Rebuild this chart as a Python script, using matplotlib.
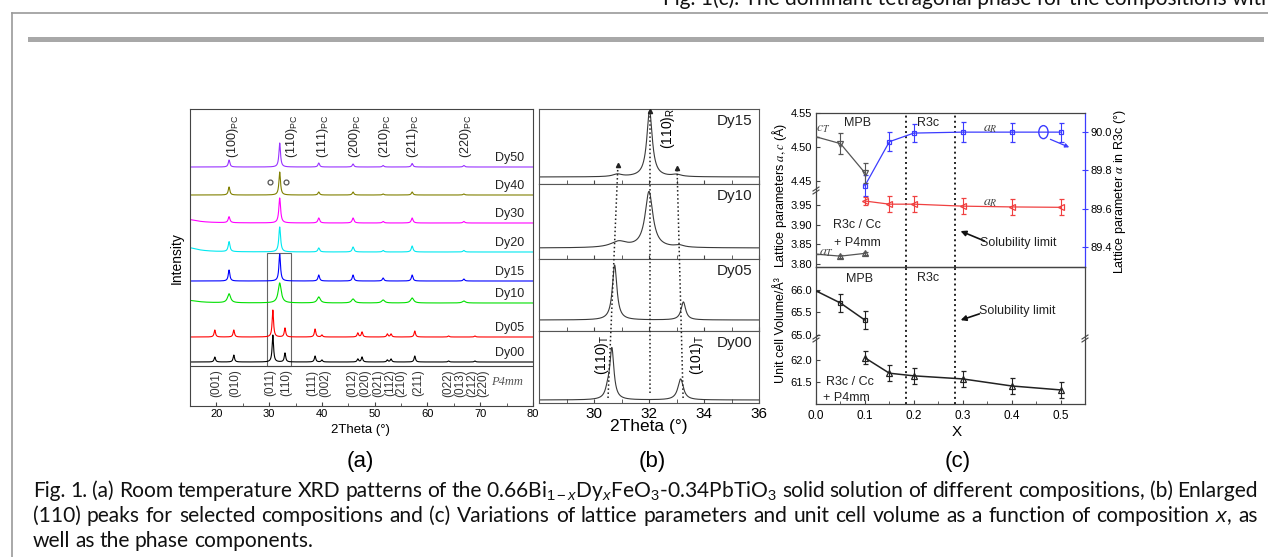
import numpy as np
import matplotlib
matplotlib.use('Agg')
import matplotlib.pyplot as plt
from matplotlib.lines import Line2D
from matplotlib.patches import Ellipse, Rectangle
from matplotlib.ticker import MultipleLocator, FormatStrFormatter

plt.rcParams['font.family'] = ['Liberation Sans', 'DejaVu Sans']
plt.rcParams['mathtext.fontset'] = 'custom'
plt.rcParams['mathtext.rm'] = 'Liberation Sans'
plt.rcParams['mathtext.it'] = 'Liberation Sans:italic'
plt.rcParams['mathtext.bf'] = 'Liberation Sans:bold'

# ---------------- data (a) ----------------
a_names = ['Dy50', 'Dy40', 'Dy30', 'Dy20', 'Dy15', 'Dy10', 'Dy05', 'Dy00']
a_colors = ['#9933ff', '#808000', '#ff00ff', '#00e8f0', '#0000ff', '#00e000', '#ff0000', '#000000']
a_offset = [239, 211, 183, 154, 125, 103, 69, 44]
pc_pos = [22.4, 32.0, 39.4, 45.9, 51.6, 57.1, 66.9]
t_pos = [19.7, 23.3, 30.7, 33.0, 38.7, 40.0, 46.8, 47.6, 52.4, 53.1, 57.6, 64.0, 69.0]
a_heights = [
    [7, 24, 4, 3, 1.5, 3.5, 1.5],
    [8, 23, 3, 3, 1, 3, 1],
    [6, 25, 5, 5, 1.5, 5, 1.5],
    [10, 25, 4, 5, 1.5, 6, 1.5],
    [11, 27, 6, 6, 3, 6, 2],
    [9, 20, 6, 4, 3, 5, 2],
    [7, 7, 27, 9, 8, 2, 4, 5, 3, 3, 6, 1, 1],
    [5, 7, 27, 9, 6, 2, 3, 5, 2, 3, 6, 1, 1],
]
a_gamma = [0.18, 0.18, 0.2, 0.2, 0.18, 0.35, 0.16, 0.16]
a_bg = [0, 0, 4, 5, 0, 3, 0, 0]
pc_labels = ['(100)', '(110)', '(111)', '(200)', '(210)', '(211)', '(220)']
pc_label_x = [23.1, 34.3, 40.2, 46.25, 51.9, 57.3, 67.3]
t_labels = ['(001)', '(010)', '(011)', '(110)', '(111)', '(002)', '(012)', '(020)',
            '(021)', '(112)', '(210)', '(211)', '(022)', '(013)', '(212)', '(220)']
t_label_x = [20.0, 23.5, 30.2, 33.2, 38.1, 40.6, 45.7, 48.2,
             50.6, 52.9, 55.0, 58.2, 63.9, 66.2, 68.4, 70.5]
imp_x = [30.2, 33.2]

# ---------------- data (b) ----------------
b_names = ['Dy15', 'Dy10', 'Dy05', 'Dy00']
b_base = [7, 11, 11, 3]
b_peaks = [
    [(32.02, 66, 0.12), (30.85, 2.5, 0.2), (33.0, 2, 0.2)],
    [(32.0, 56, 0.17), (30.9, 6, 0.35), (33.1, 2, 0.2)],
    [(30.75, 55, 0.1), (33.25, 18, 0.1)],
    [(30.65, 50, 0.09), (30.5, 8, 0.1), (33.15, 21, 0.12)],
]
shift_T1 = ([30.51, 30.87], [5, 238])
shift_R = ([32.04, 32.04], [10, 292])
shift_T2 = ([33.24, 33.02], [5, 235])

# ---------------- data (c) ----------------
x_T = [0.0, 0.05, 0.1]
c_T = [4.515, 4.505, 4.462]
c_T_err = [0.0, 0.016, 0.015]
a_T = [3.825, 3.820, 3.827]
a_T_err = [0.0, 0.004, 0.004]
x_R = [0.1, 0.15, 0.2, 0.3, 0.4, 0.5]
a_R = [3.960, 3.952, 3.952, 3.947, 3.945, 3.944]
a_R_err = [0.01, 0.02, 0.02, 0.02, 0.02, 0.02]
alpha_R = [89.72, 89.95, 89.995, 90.0, 90.0, 90.0]
alpha_err = [0.055, 0.05, 0.046, 0.053, 0.05, 0.05]
V_T = [65.98, 65.71, 65.33]
V_T_err = [0.0, 0.2, 0.2]
V_R = [62.05, 61.70, 61.64, 61.57, 61.41, 61.32]
V_R_err = [0.15, 0.18, 0.18, 0.18, 0.18, 0.18]
phase_bounds = [0.185, 0.284]

W, H = 1268, 557
fig = plt.figure(figsize=(W / 100, H / 100), dpi=100)


def box(x0, y0, x1, y1):
    return [x0 / W, 1 - y1 / H, (x1 - x0) / W, (y1 - y0) / H]


def ftext(x, y, s, **kw):
    return fig.text(x / W, 1 - y / H, s, **kw)


def fline(xs, ys, **kw):
    fig.add_artist(Line2D([x / W for x in xs], [1 - y / H for y in ys], **kw))


def lorentz(x, peaks):
    y = np.zeros_like(x)
    for p, h, g in peaks:
        y += h * g ** 2 / ((x - p) ** 2 + g ** 2)
    return y


def brk(x, y):
    fline([x - 3, x + 3], [y + 1, y - 3], color='#444', lw=0.8)
    fline([x - 3, x + 3], [y + 4, y], color='#444', lw=0.8)


SP = '#444444'
renderer = fig.canvas.get_renderer()

# page frame
fline([12, 12], [13, 557], color='#9a9a9a', lw=1.2)
fline([12, 1268], [13, 13], color='#9a9a9a', lw=1.2)
fline([30, 1261], [38.5, 38.5], color='#a8a8a8', lw=3.6)

# ---------------- caption (size fitted to the justified width) ----------------
cap_lines = [
    'Fig. 1. (a) Room temperature XRD patterns of the 0.66Bi$_{1-x}$Dy$_x$FeO$_3$-0.34PbTiO$_3$ '
    'solid solution of different compositions, (b) Enlarged',
    '(110) peaks for selected compositions and (c) Variations of lattice parameters and unit '
    'cell volume as a function of composition $x$, as',
    'well as the phase components.',
]
cap_base = [497, 522, 547]
X0, X1 = 33, 1258


def words_width(words, size):
    objs = [fig.text(0, 0, w, family='Lato', fontsize=size) for w in words]
    ws = [o.get_window_extent(renderer).width for o in objs]
    for o in objs:
        o.remove()
    return ws


size = 12.5
w1 = cap_lines[0].split(' ')
for _ in range(3):
    ws = words_width(w1, size)
    nat = sum(ws) + (len(w1) - 1) * size * 0.23 * 100 / 72
    size *= (X1 - X0) / nat

for i, line in enumerate(cap_lines):
    words = line.split(' ')
    objs = [ftext(0, cap_base[i], w, family='Lato', fontsize=size, va='baseline', color='#111')
            for w in words]
    ws = [o.get_window_extent(renderer).width for o in objs]
    if i < len(cap_lines) - 1:
        gap = (X1 - X0 - sum(ws)) / (len(words) - 1)
    else:
        gap = size * 0.23 * 100 / 72
    x = X0
    for o, w in zip(objs, ws):
        o.set_x(x / W)
        x += w + gap

ftext(663, 5, 'Fig. 1(c). The dominant tetragonal phase for the compositions with',
      family='Lato', fontsize=size, va='baseline', color='#111')

# ---------------- panel (a) ----------------
ax_a = fig.add_axes(box(190, 109, 533, 406))
xa = np.linspace(15, 80, 5000)
for i, name in enumerate(a_names):
    pos = t_pos if len(a_heights[i]) == len(t_pos) else pc_pos
    peaks = [(p, h, a_gamma[i]) for p, h in zip(pos, a_heights[i])]
    if a_bg[i]:
        peaks.append((14, a_bg[i], 2.5))
    ax_a.plot(xa, a_offset[i] + lorentz(xa, peaks), color=a_colors[i], lw=0.8)
    ax_a.text(78.4, a_offset[i] + 9, name, ha='right', va='center', fontsize=9, color='#222')
ax_a.plot(imp_x, [a_offset[1] + 13] * 2, 'o', ms=3.5, mfc='none', mec='#555', mew=0.9)
for lab, x in zip(pc_labels, pc_label_x):
    ax_a.text(x, 248, lab + r'$_{\rm PC}$', rotation=90, ha='center', va='bottom',
              fontsize=9, color='#222')
for lab, x in zip(t_labels, t_label_x):
    ax_a.text(x, 23, lab, rotation=90, ha='center', va='center', fontsize=8.5, color='#333')
ax_a.text(78, 24, 'P4mm', family='Liberation Serif', style='italic', fontsize=9,
          ha='right', va='center', color='#555')
ax_a.axhline(40, color=SP, lw=0.8)
ax_a.add_patch(Rectangle((29.5, 40), 4.6, 113, fill=False, ec='#666', lw=0.8))
ax_a.set_xlim(15, 80)
ax_a.set_ylim(0, 297)
ax_a.set_xticks(range(20, 81, 10))
ax_a.xaxis.set_minor_locator(MultipleLocator(5))
ax_a.set_yticks([])
ax_a.tick_params(axis='x', which='major', direction='in', length=3, labelsize=8, pad=2.5, color=SP)
ax_a.tick_params(axis='x', which='minor', direction='in', length=2, color=SP)
for s in ax_a.spines.values():
    s.set_color(SP)
    s.set_linewidth(0.8)
ftext(177, 258, 'Intensity', rotation=90, ha='center', va='center', fontsize=10)
ftext(360, 430, '2Theta (°)', ha='center', va='center', fontsize=9.5)

# ---------------- panel (b) ----------------
b_rows = [(109, 184), (184, 259), (259, 331), (331, 403)]
xb = np.linspace(28, 36, 3000)
for i, (top, bot) in enumerate(b_rows):
    ax = fig.add_axes(box(539, top, 759, bot))
    ax.plot(xb, b_base[i] + lorentz(xb, b_peaks[i]), color='#3a3a3a', lw=0.8)
    ax.text(35.75, (bot - top) - 12, b_names[i], ha='right', va='center', fontsize=11, color='#222')
    ax.set_xlim(28, 36)
    ax.set_ylim(0, bot - top)
    ax.set_yticks([])
    ax.set_xticks([30, 32, 34, 36])
    ax.xaxis.set_minor_locator(MultipleLocator(1))
    ax.tick_params(axis='x', which='both', direction='in', length=3, color=SP,
                   labelsize=11, pad=3, labelbottom=(i == 3))
    for s in ax.spines.values():
        s.set_color('#555')
        s.set_linewidth(0.8)

ax_bo = fig.add_axes(box(539, 109, 759, 403))
ax_bo.set_xlim(28, 36)
ax_bo.set_ylim(0, 294)
ax_bo.axis('off')
for xs, ys in (shift_T1, shift_R, shift_T2):
    ax_bo.plot(xs, ys, ls=':', color='#222', lw=1.1)
    ax_bo.plot(xs[1], ys[1], '^', ms=3, color='#222')
ax_bo.text(32.69, 275, r'(110)$_{\rm R}$', rotation=90, ha='center', va='center', fontsize=10)
ax_bo.text(30.29, 48, r'(110)$_{\rm T}$', rotation=90, ha='center', va='center', fontsize=10)
ax_bo.text(33.75, 48, r'(101)$_{\rm T}$', rotation=90, ha='center', va='center', fontsize=10)
ftext(649, 427, '2Theta (°)', ha='center', va='center', fontsize=12.5)

# ---------------- panel (c) ----------------
BLUE = '#3c3cff'
RED = '#f04040'
GR = '#555555'

ax_ct = fig.add_axes(box(816, 113, 1085, 267))
ax_cu = fig.add_axes(box(816, 113, 1085, 190))
ax_cl = fig.add_axes(box(816, 190, 1085, 267))
ax_vb = fig.add_axes(box(816, 267, 1085, 404))
ax_vu = fig.add_axes(box(816, 267, 1085, 338))
ax_vl = fig.add_axes(box(816, 338, 1085, 404))

for ax in (ax_ct, ax_cu, ax_cl, ax_vb, ax_vu, ax_vl):
    ax.set_xlim(0, 0.55)
    ax.patch.set_alpha(0)
for ax in (ax_cu, ax_cl, ax_vu, ax_vl):
    for s in ax.spines.values():
        s.set_visible(False)
    ax.set_xticks([])
    ax.tick_params(axis='y', direction='in', length=3, labelsize=8, pad=3, color=SP)
    ax.yaxis.set_major_formatter(FormatStrFormatter('%.2f'))

# frame of upper panel with alpha axis on the right
ax_ct.set_ylim(89.295, 90.1)
ax_ct.set_xticks([])
ax_ct.yaxis.tick_right()
ax_ct.set_yticks([89.4, 89.6, 89.8, 90.0])
ax_ct.yaxis.set_major_formatter(FormatStrFormatter('%.1f'))
ax_ct.tick_params(axis='y', direction='inout', length=4, labelsize=8, pad=2, color=BLUE)
for s in ax_ct.spines.values():
    s.set_color(SP)
    s.set_linewidth(0.9)
ax_ct.spines['right'].set_color(BLUE)

ax_vb.set_ylim(0, 1)
ax_vb.set_yticks([])
ax_vb.set_xticks(np.arange(0, 0.51, 0.1))
ax_vb.xaxis.set_minor_locator(MultipleLocator(0.05))
ax_vb.xaxis.set_major_formatter(FormatStrFormatter('%.1f'))
ax_vb.tick_params(axis='x', which='major', direction='in', length=3, labelsize=8.5, pad=4, color=SP)
ax_vb.tick_params(axis='x', which='minor', direction='in', length=2, color=SP)
for s in ax_vb.spines.values():
    s.set_color(SP)
    s.set_linewidth(0.9)

for ax in (ax_ct, ax_vb):
    for xb_ in phase_bounds:
        ax.axvline(xb_, ls=':', color='#222', lw=1.4)

ax_cu.set_ylim(4.4368, 4.55)
ax_cu.set_yticks([4.45, 4.50, 4.55])
ax_cl.set_ylim(3.7924, 3.988)
ax_cl.set_yticks([3.80, 3.85, 3.90, 3.95])
ax_vu.set_ylim(64.933, 66.51)
ax_vu.set_yticks([65.0, 65.5, 66.0])
ax_vu.yaxis.set_major_formatter(FormatStrFormatter('%.1f'))
ax_vl.set_ylim(61.0, 62.5)
ax_vl.set_yticks([61.5, 62.0])
ax_vl.yaxis.set_major_formatter(FormatStrFormatter('%.1f'))

eb = dict(capsize=1.8, elinewidth=0.8, capthick=0.8, ms=4, mew=0.9, mfc='none')
ax_cu.errorbar(x_T, c_T, yerr=c_T_err, fmt='-v', color=GR, lw=0.9, markevery=[1, 2], **eb)
ax_cl.errorbar(x_T, a_T, yerr=a_T_err, fmt='-^', color=GR, lw=0.9, markevery=[1, 2], **eb)
ax_cl.errorbar(x_R, a_R, yerr=a_R_err, fmt='-<', color=RED, lw=0.9, **eb)
ax_ct.errorbar(x_R, alpha_R, yerr=alpha_err, fmt='-s', color=BLUE, lw=0.9, **dict(eb, ms=3.5))
ax_vu.errorbar(x_T, V_T, yerr=V_T_err, fmt='-s', color='#222', lw=1.1, markevery=[1, 2],
               **dict(eb, ms=3.5))
ax_vl.errorbar(x_R, V_R, yerr=V_R_err, fmt='-^', color='#222', lw=1.1, **eb)

ax_ct.add_patch(Ellipse((0.465, 90.0), 0.019, 0.068, fill=False, ec=BLUE, lw=1.0))
ax_ct.annotate('', xy=(0.523, 89.915), xytext=(0.474, 89.968),
               arrowprops=dict(arrowstyle='-|>', color=BLUE, lw=0.9, mutation_scale=6))

for (x0, y0), (x1, y1) in (((987, 242), (958, 230)), ((982, 313), (958, 321))):
    ax_ct.annotate('', xy=(x1 / W, 1 - y1 / H), xytext=(x0 / W, 1 - y0 / H),
                   xycoords='figure fraction', textcoords='figure fraction',
                   arrowprops=dict(arrowstyle='-|>', color='#111', lw=1.2, mutation_scale=8))

brk(816, 190)
brk(816, 338)
brk(1085, 338)

ct = dict(ha='center', va='center', fontsize=9, color='#222')
ftext(858, 123, 'MPB', **ct)
ftext(928, 123, 'R3c', **ct)
ftext(860, 279, 'MPB', **ct)
ftext(928, 278, 'R3c', **ct)
ftext(857, 225, 'R3c / Cc', **ct)
ftext(857, 243, '+ P4mm', **ct)
ftext(1018, 243, 'Solubility limit', **ct)
ftext(1017, 311, 'Solubility limit', **ct)
ftext(850, 382, 'R3c / Cc', **ct)
ftext(846, 398, '+ P4mm', **ct)

it = dict(ha='center', va='center', fontsize=10, color='#444', math_fontfamily='stix')
ftext(823, 128, r'$c_T$', **it)
ftext(990, 128, r'$a_R$', **it)
ftext(990, 202, r'$a_R$', **it)
ftext(827, 252, r'$a_T$', **it)

ftext(780, 195, r'Lattice parameters $a,c$ (Å)', rotation=90, ha='center', va='center',
      fontsize=9, math_fontfamily='stix')
ftext(781, 330, 'Unit cell Volume/Å³', rotation=90, ha='center', va='center', fontsize=9)
ftext(1120, 192, r'Lattice parameter $\alpha$ in R3c (°)', rotation=90, ha='center',
      va='center', fontsize=9, math_fontfamily='stix')
ftext(957, 432, 'X', ha='center', va='center', fontsize=11)

# panel letters
for x, lab in ((360, '(a)'), (652, '(b)'), (958, '(c)')):
    ftext(x, 462, lab, ha='center', va='center', fontsize=16)

fig.savefig('out.png', dpi=100)
